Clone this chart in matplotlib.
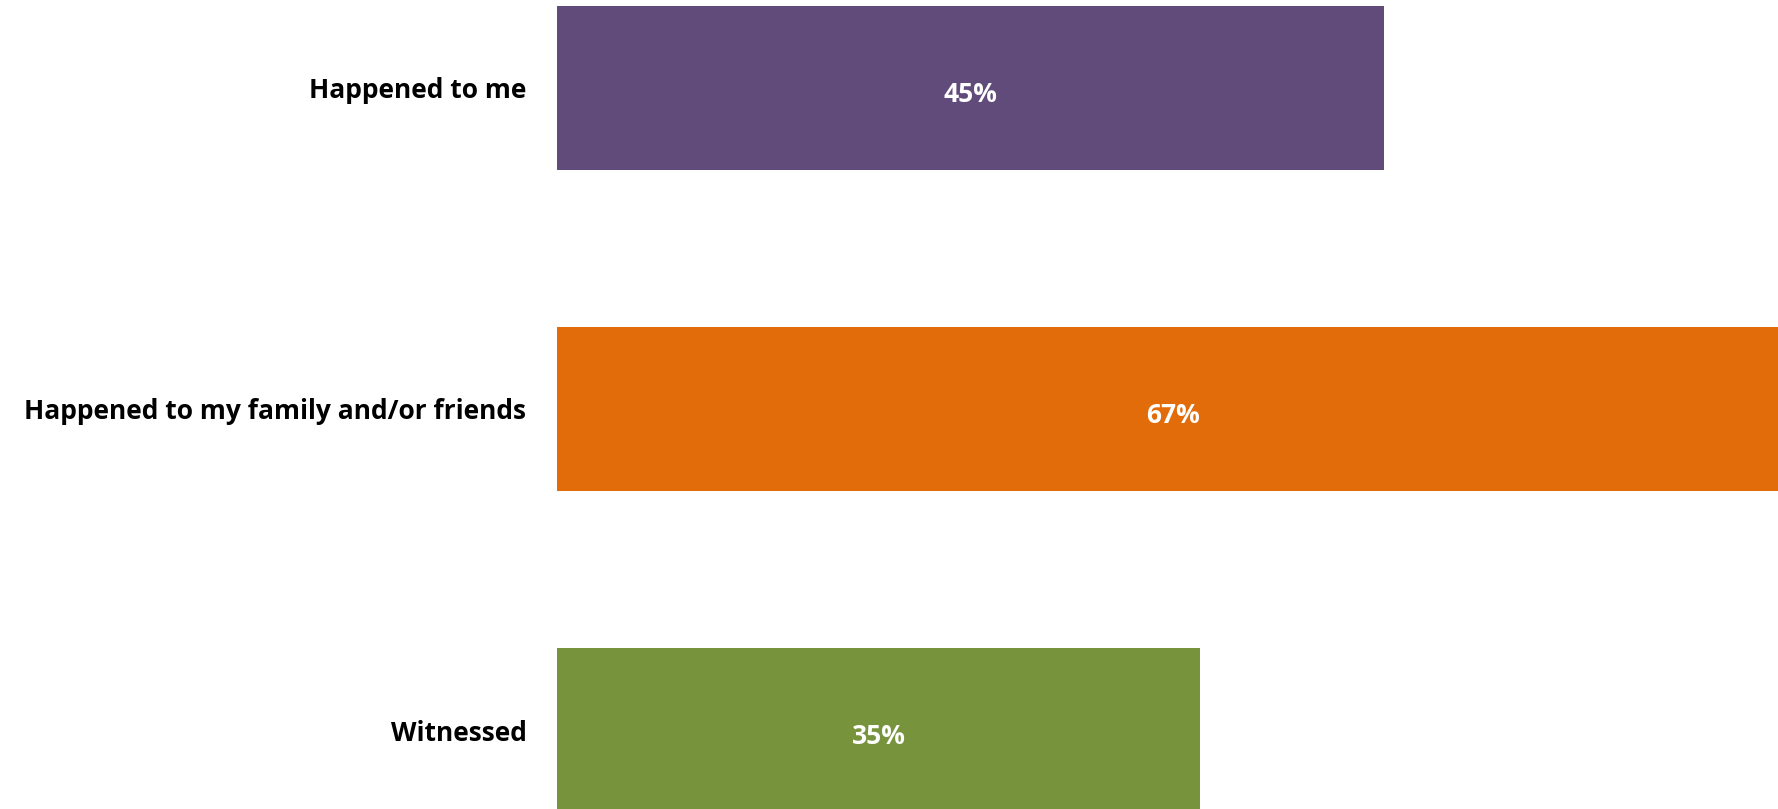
import matplotlib.pyplot as plt

categories = ["Happened to me", "Happened to my family and/or friends", "Witnessed"]
values = [45, 67, 35]
colors = ["#614B7B", "#E36C0A", "#77933C"]

plt.rcParams["font.family"] = ["Open Sans", "DejaVu Sans"]

fig = plt.figure(figsize=(17.78, 8.09), dpi=100)
ax = fig.add_axes([557 / 1778, 0, 1 - 557 / 1778, 1])

y = range(len(categories))
bars = ax.barh(y, values, height=0.51, color=colors)

# value labels in the middle of each bar
for b, v in zip(bars, values):
    ax.text(b.get_width() / 2, b.get_y() + b.get_height() / 2 + 0.02, f"{v}%",
            ha="center", va="center", color="white", fontsize=19, fontweight="bold")

ax.set_yticks(list(y))
ax.set_yticklabels(categories, fontsize=19, fontweight="bold")
ax.tick_params(axis="y", length=0, pad=22)
ax.set_xticks([])
ax.set_xlim(0, 66.45)
ax.set_ylim(2.246, -0.274)
for s in ax.spines.values():
    s.set_visible(False)

fig.savefig("out.png", dpi=100)
